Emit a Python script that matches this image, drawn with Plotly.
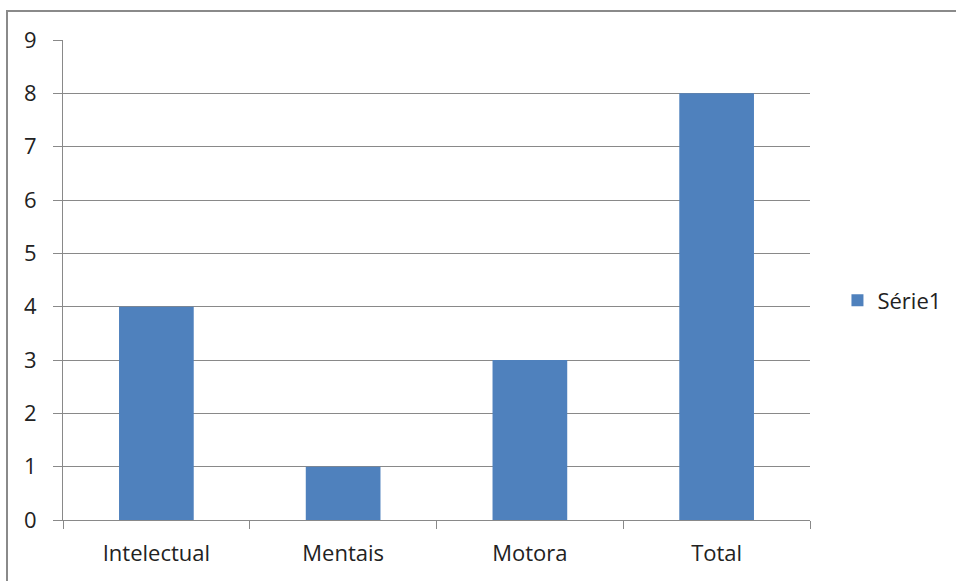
import plotly.graph_objects as go

categories = ["Intelectual", "Mentais", "Motora", "Total"]
values = [4, 1, 3, 8]
series_name = "Série1"

fig = go.Figure()
fig.add_trace(go.Bar(x=categories, y=values, name=series_name,
                     marker=dict(color="#4F81BD", line=dict(width=0))))

axis_color = "#898989"
fig.update_layout(
    width=956, height=581,
    margin=dict(l=63, r=146, t=40, b=61, autoexpand=False),
    paper_bgcolor="white", plot_bgcolor="white",
    bargap=0.6,
    showlegend=True,
    font=dict(family="Open Sans, Liberation Sans, sans-serif", size=22, color="#222222"),
    legend=dict(xref="container", yref="container", x=0.876, y=0.483,
                xanchor="left", yanchor="middle",
                font=dict(size=22), bgcolor="rgba(0,0,0,0)"),
    xaxis=dict(type="category", tickson="boundaries", ticks="outside", ticklen=8,
               tickcolor=axis_color, showgrid=False, showline=True, linecolor=axis_color,
               linewidth=1, tickfont=dict(size=22), zeroline=False, ticklabelstandoff=14),
    yaxis=dict(range=[0, 9], dtick=1, ticks="outside", ticklen=9, tickcolor=axis_color,
               showgrid=True, gridcolor=axis_color, gridwidth=1, showline=True,
               linecolor=axis_color, zeroline=False, tickfont=dict(size=22),
               ticklabelstandoff=12),
)
fig.add_shape(type="rect", xref="paper", yref="paper",
              x0=(7 - 63) / 747, x1=(990 - 63) / 747, y0=(520 - 600) / 480, y1=(520 - 11) / 480,
              line=dict(color="#8a8a8a", width=2), fillcolor="rgba(0,0,0,0)", layer="below")

fig.write_html("out.html")
